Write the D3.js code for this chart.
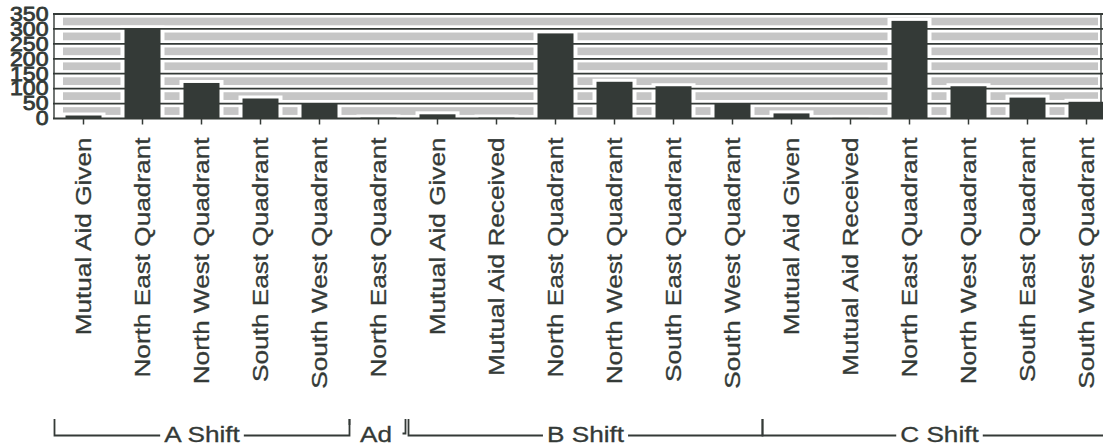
<!DOCTYPE html>
<html>
<head>
<meta charset="utf-8">
<script src="https://cdn.jsdelivr.net/npm/d3@7.9.0/dist/d3.min.js"></script>
<style>
  body { margin: 0; background: #fff; }
  svg { display: block; font-family: "Liberation Sans", Arial, sans-serif; }
</style>
</head>
<body>
<div id="chart"></div>
<script>
const categories = [
  'Mutual Aid Given', 'North East Quadrant', 'North West Quadrant', 'South East Quadrant', 'South West Quadrant',
  'North East Quadrant',
  'Mutual Aid Given', 'Mutual Aid Received', 'North East Quadrant', 'North West Quadrant', 'South East Quadrant', 'South West Quadrant',
  'Mutual Aid Given', 'Mutual Aid Received', 'North East Quadrant', 'North West Quadrant', 'South East Quadrant', 'South West Quadrant'
];
const values = [10, 301, 119, 67, 50, 3, 14, 3, 285, 123, 108, 50, 17, 2, 327, 108, 70, 56];
const groups = ['A Shift', 'Ad', 'B Shift', 'C Shift'];
const groupSizes = [5, 1, 6, 6];
const yTicks = [0, 50, 100, 150, 200, 250, 300, 350];

const width = 1103, height = 448;
const dark = '#343a37';
const band = '#c6c6c6';
const stretch = 1.19; // the scanned lettering is wider than plain Arial

const svg = d3.select('#chart').append('svg')
  .attr('width', width)
  .attr('height', height);

const idx = d3.range(values.length);
const x = d3.scaleBand()
  .domain(idx)
  .range([54, 1116])
  .paddingInner(0.39)
  .paddingOuter(0.195);

const y = d3.scaleLinear()
  .domain([0, 350])
  .range([118.5, 14]);

// grey bands between the gridlines
svg.append('g')
  .selectAll('rect')
  .data(yTicks.slice(0, -1))
  .join('rect')
  .attr('x', 63)
  .attr('width', width - 63 - 5)
  .attr('y', d => y(d + 50) + 3.6)
  .attr('height', d => y(d) - y(d + 50) - 7.2)
  .attr('fill', band);

// white gap round each bar
svg.append('g')
  .selectAll('rect')
  .data(idx)
  .join('rect')
  .attr('x', i => x(i) - 4)
  .attr('width', x.bandwidth() + 8)
  .attr('y', i => y(values[i]) - 3)
  .attr('height', i => y(0) - y(values[i]) + 3)
  .attr('fill', '#fff');

// gridlines
svg.append('g')
  .selectAll('line')
  .data(yTicks)
  .join('line')
  .attr('x1', 53)
  .attr('x2', width)
  .attr('y1', d => y(d))
  .attr('y2', d => y(d))
  .attr('stroke', dark)
  .attr('stroke-width', 1.8);

svg.append('line')
  .attr('x1', 54).attr('x2', 54)
  .attr('y1', y(350)).attr('y2', y(0))
  .attr('stroke', dark).attr('stroke-width', 1.4);

svg.append('line')
  .attr('x1', 1101).attr('x2', 1101)
  .attr('y1', y(350)).attr('y2', y(0))
  .attr('stroke', dark).attr('stroke-width', 1.4);

// bars
svg.append('g')
  .selectAll('rect')
  .data(idx)
  .join('rect')
  .attr('x', i => x(i))
  .attr('width', x.bandwidth())
  .attr('y', i => y(values[i]))
  .attr('height', i => y(0) - y(values[i]))
  .attr('fill', dark);

// y axis labels
const yAxis = d3.axisLeft(y).tickValues(yTicks).tickSize(0).tickPadding(5);
const gy = svg.append('g')
  .attr('transform', 'translate(54,0)')
  .call(yAxis);
gy.select('.domain').remove();
gy.selectAll('text')
  .attr('font-size', 21)
  .attr('fill', dark)
  .attr('stroke', dark)
  .attr('stroke-width', 0.8)
  .attr('dy', '0.3em')
  .attr('transform', 'scale(1.1,1)')
  .attr('font-family', '"Liberation Sans", Arial, sans-serif');

// x axis
const xAxis = d3.axisBottom(x).tickSize(6).tickFormat(i => categories[i]);
const gx = svg.append('g')
  .attr('transform', `translate(0,${y(0)})`)
  .call(xAxis);
gx.select('.domain').remove();
gx.selectAll('.tick line').attr('stroke', dark).attr('stroke-width', 1.5);
gx.selectAll('text')
  .attr('font-size', 22)
  .attr('fill', dark)
  .attr('stroke', dark)
  .attr('stroke-width', 0.3)
  .attr('font-family', '"Liberation Sans", Arial, sans-serif')
  .attr('text-anchor', 'end')
  .attr('transform', `rotate(-90) scale(${stretch},1)`)
  .attr('x', -19 / stretch)
  .attr('y', 0)
  .attr('dy', '0.35em');

// group brackets
let start = 0;
const bracketTop = 419, bracketY = 435.5, textY = 442;
const gb = svg.append('g').attr('stroke', dark).attr('stroke-width', 1.8).attr('fill', 'none');
groups.forEach((name, gi) => {
  const first = start, last = start + groupSizes[gi] - 1;
  start += groupSizes[gi];
  const x0 = x(first) - x.step() * x.paddingInner() / 2 - x.step() * 0.195 + 12;
  const x1 = x(last) + x.bandwidth() + x.step() * 0.39 / 2 + x.step() * 0.195 - 11;
  const cx = groupSizes[gi] > 1 ? (x0 + x1) / 2 : (x0 + x1) / 2 - 3;
  const txt = svg.append('text')
    .attr('transform', `translate(${cx},${textY}) scale(${stretch},1)`)
    .attr('text-anchor', 'middle')
    .attr('font-size', 22)
    .attr('fill', dark)
    .attr('stroke', dark)
    .attr('stroke-width', 0.3)
    .text(name);
  const w = txt.node().getComputedTextLength() * stretch;
  if (groupSizes[gi] > 1) {
    gb.append('path').attr('d', `M${x0},${bracketTop}V${bracketY}H${cx - w / 2 - 4}`);
    gb.append('path').attr('d', `M${cx + w / 2 + 4},${bracketY}H${x1}V${bracketTop}`);
  } else {
    gb.append('path').attr('d', `M${x0},${bracketTop}V${bracketTop + 6}`);
    gb.append('path').attr('d', `M${x1 - 3},${bracketTop}V${bracketY - 2}H${x1 - 6}`);
  }
});
</script>
</body>
</html>
